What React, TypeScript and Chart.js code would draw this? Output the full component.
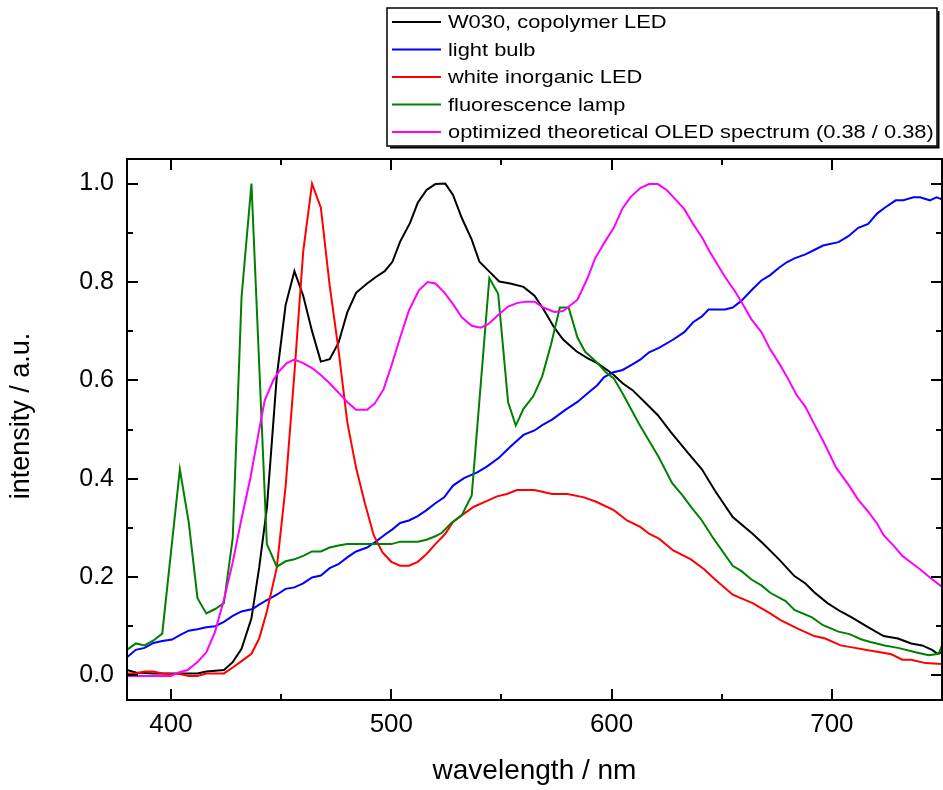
import React, { useEffect, useRef } from 'react';
import { Chart, registerables } from 'chart.js';

Chart.register(...registerables);

// ---------- data ----------
const w030Wavelength = [380, 384, 392, 400, 412, 416, 424, 428, 432, 436.5, 440, 443.5, 448, 452, 456, 460, 464, 468, 472, 476, 480, 484, 489, 493, 497, 500.5, 504, 508.5, 512, 516, 520, 524.5, 528, 532, 536.5, 540, 544.5, 549, 554, 560, 565, 569, 574, 578, 584, 589, 593.5, 598, 601, 605, 609.5, 615, 621, 627, 634, 641, 647, 655, 664, 669, 676, 683, 688, 692, 698, 704, 709, 716, 723.5, 730, 736, 741, 745.5, 748, 750];
const w030Intensity = [0.011, 0.006, 0.004, 0.004, 0.004, 0.008, 0.011, 0.027, 0.054, 0.116, 0.219, 0.34, 0.608, 0.753, 0.822, 0.772, 0.7, 0.638, 0.643, 0.676, 0.738, 0.778, 0.797, 0.81, 0.822, 0.841, 0.882, 0.92, 0.961, 0.987, 0.999, 1.0, 0.977, 0.93, 0.886, 0.841, 0.821, 0.801, 0.797, 0.79, 0.772, 0.745, 0.707, 0.683, 0.659, 0.645, 0.635, 0.621, 0.611, 0.594, 0.58, 0.556, 0.529, 0.494, 0.456, 0.419, 0.375, 0.322, 0.288, 0.267, 0.236, 0.202, 0.187, 0.169, 0.147, 0.13, 0.118, 0.099, 0.08, 0.075, 0.065, 0.061, 0.052, 0.044, 0.047];

const bulbWavelength = [380, 384, 388, 392, 396, 400.5, 404, 408, 412, 416, 420, 424, 428, 432, 437, 440, 443.5, 448, 452, 456, 460, 464, 468, 472, 476, 480, 484, 489, 493, 497, 500.5, 504, 508, 512, 516, 520, 524, 528, 533, 539, 543.5, 549, 554, 560, 565, 568.5, 573, 579, 584.5, 589, 593.5, 596.5, 600.5, 605, 608.5, 613, 617, 621.5, 628, 633, 637, 641, 644, 651.5, 655, 659, 663.5, 668, 672, 676, 679.5, 683, 688, 692, 696, 703, 707.5, 712, 716.5, 720.5, 724, 729, 732.5, 737, 740, 744.5, 747.5, 750];
const bulbIntensity = [0.037, 0.052, 0.056, 0.066, 0.07, 0.073, 0.082, 0.091, 0.094, 0.098, 0.1, 0.109, 0.121, 0.13, 0.135, 0.144, 0.153, 0.164, 0.176, 0.179, 0.187, 0.199, 0.203, 0.218, 0.226, 0.24, 0.252, 0.26, 0.272, 0.286, 0.297, 0.31, 0.315, 0.324, 0.336, 0.35, 0.362, 0.386, 0.401, 0.413, 0.425, 0.443, 0.465, 0.489, 0.498, 0.509, 0.52, 0.54, 0.556, 0.573, 0.59, 0.606, 0.616, 0.621, 0.63, 0.642, 0.657, 0.666, 0.683, 0.698, 0.718, 0.73, 0.744, 0.744, 0.748, 0.762, 0.783, 0.803, 0.814, 0.829, 0.84, 0.848, 0.856, 0.865, 0.874, 0.881, 0.893, 0.91, 0.918, 0.939, 0.951, 0.966, 0.966, 0.972, 0.972, 0.966, 0.972, 0.968];

const inorganicWavelength = [380, 384, 388, 392, 396, 400, 404, 408, 412, 416, 424, 428, 432, 436.5, 440, 443.5, 448, 452, 456, 460, 464, 468, 472, 476, 480, 484, 488, 492, 496, 500, 504, 508, 512, 516, 520, 524.5, 528, 533, 537.5, 543.5, 548, 552.5, 557, 565, 569, 573, 580, 587.5, 593, 601, 607, 613, 617, 621.5, 628, 636, 642, 647, 655, 664, 672, 676.5, 684, 692, 697, 704, 710.5, 716.5, 722, 727, 732, 736, 742.5, 750];
const inorganicIntensity = [0.004, 0.004, 0.008, 0.008, 0.004, 0.003, 0.003, -0.001, -0.001, 0.004, 0.004, 0.016, 0.029, 0.044, 0.075, 0.13, 0.219, 0.384, 0.614, 0.862, 1.0, 0.951, 0.793, 0.663, 0.515, 0.422, 0.35, 0.285, 0.25, 0.231, 0.223, 0.223, 0.231, 0.247, 0.267, 0.288, 0.312, 0.329, 0.343, 0.355, 0.364, 0.369, 0.377, 0.377, 0.373, 0.369, 0.369, 0.362, 0.353, 0.336, 0.315, 0.302, 0.288, 0.278, 0.254, 0.236, 0.216, 0.195, 0.164, 0.147, 0.126, 0.113, 0.096, 0.08, 0.075, 0.061, 0.056, 0.051, 0.047, 0.043, 0.032, 0.032, 0.025, 0.023];

const fluorescentWavelength = [380, 384, 388, 392, 396, 404, 408, 412, 416, 420, 424, 428, 432, 436.5, 443.5, 448, 452, 456, 460, 464, 468, 472, 476, 480, 500, 504, 512, 516, 520, 523, 527, 532, 536.5, 544.5, 548.5, 553, 556.5, 560, 564.5, 568.5, 572.5, 576.5, 580.5, 584.5, 588, 593, 597.5, 601, 605, 612.5, 617, 621.5, 627.5, 632, 636.5, 641, 646, 655, 659, 663.5, 668, 672, 679, 683, 691, 696, 703, 708, 713.5, 717.5, 724, 730, 738, 744, 748.5, 750];
const fluorescentIntensity = [0.052, 0.065, 0.061, 0.071, 0.085, 0.419, 0.312, 0.157, 0.126, 0.135, 0.147, 0.279, 0.769, 1.0, 0.267, 0.221, 0.232, 0.236, 0.243, 0.252, 0.252, 0.26, 0.264, 0.267, 0.267, 0.272, 0.272, 0.276, 0.283, 0.29, 0.309, 0.326, 0.366, 0.808, 0.776, 0.556, 0.508, 0.542, 0.568, 0.608, 0.673, 0.748, 0.748, 0.687, 0.658, 0.638, 0.616, 0.604, 0.573, 0.511, 0.477, 0.443, 0.391, 0.367, 0.34, 0.315, 0.28, 0.223, 0.212, 0.195, 0.183, 0.168, 0.151, 0.133, 0.118, 0.102, 0.089, 0.084, 0.073, 0.068, 0.061, 0.056, 0.047, 0.041, 0.044, 0.061];

const oledWavelength = [380, 392, 400, 403.5, 407.5, 412, 416, 420, 424, 428, 432, 436, 439.5, 442.5, 446.5, 449, 452.5, 456, 460, 464, 468, 472, 476, 480, 484, 489, 492.5, 496.5, 500, 504, 508, 512.5, 516.5, 520, 524, 528, 532, 536.5, 540.5, 544, 549, 553, 557, 561, 565, 569, 574, 578, 584.5, 589, 592.5, 597, 601, 605, 608.5, 613, 617, 621, 625, 629, 633, 637, 641, 644.5, 648, 651.5, 656, 659.5, 663.5, 668, 672, 676, 679.5, 684, 688, 692, 696, 702, 707.5, 712, 716.5, 720.5, 723.5, 728, 732, 735.5, 740, 744.5, 750];
const oledIntensity = [-0.001, -0.001, -0.001, 0.006, 0.011, 0.027, 0.047, 0.089, 0.154, 0.23, 0.319, 0.401, 0.487, 0.559, 0.601, 0.618, 0.635, 0.642, 0.635, 0.625, 0.611, 0.594, 0.575, 0.556, 0.54, 0.54, 0.553, 0.582, 0.629, 0.687, 0.742, 0.783, 0.8, 0.797, 0.779, 0.755, 0.728, 0.711, 0.707, 0.714, 0.735, 0.75, 0.757, 0.76, 0.76, 0.748, 0.739, 0.741, 0.764, 0.807, 0.848, 0.882, 0.91, 0.95, 0.972, 0.991, 0.999, 0.999, 0.987, 0.968, 0.948, 0.918, 0.891, 0.862, 0.836, 0.81, 0.781, 0.755, 0.724, 0.698, 0.663, 0.635, 0.608, 0.57, 0.546, 0.511, 0.477, 0.422, 0.388, 0.357, 0.333, 0.309, 0.285, 0.264, 0.243, 0.231, 0.216, 0.199, 0.18];

const seriesLabels = [
  'W030, copolymer LED',
  'light bulb',
  'white inorganic LED',
  'fluorescence lamp',
  'optimized theoretical OLED spectrum (0.38 / 0.38)',
];
const seriesColors = ['#000000', '#0000ff', '#ff0000', '#008000', '#ff00ff'];

const xMajorTicks = [400, 500, 600, 700];
const xMinorTicks = [450, 550, 650, 750];
const yMajorTicks = [0, 0.2, 0.4, 0.6, 0.8, 1.0];
const yMinorTicks = [0.1, 0.3, 0.5, 0.7, 0.9];

const FONT = '"Liberation Sans", Arial, Helvetica, sans-serif';

export default function App() {
  const canvasRef = useRef<HTMLCanvasElement | null>(null);

  useEffect(() => {
    const canvas = canvasRef.current;
    if (!canvas) return;

    const xs = [w030Wavelength, bulbWavelength, inorganicWavelength, fluorescentWavelength, oledWavelength];
    const ys = [w030Intensity, bulbIntensity, inorganicIntensity, fluorescentIntensity, oledIntensity];

    const datasets = seriesLabels.map((label, i) => ({
      label,
      data: xs[i].map((x, k) => ({ x, y: ys[i][k] })),
      borderColor: seriesColors[i],
      backgroundColor: seriesColors[i],
      borderWidth: 2,
      pointRadius: 0,
      tension: 0,
      fill: false,
      order: seriesLabels.length - i,
    }));

    const frameTicks = {
      id: 'frameTicks',
      afterDatasetsDraw(chart: any) {
        const { ctx, chartArea: a, scales } = chart;
        const sx = scales.x;
        const sy = scales.y;
        ctx.save();
        ctx.strokeStyle = '#000';
        ctx.lineWidth = 2;
        ctx.strokeRect(a.left, a.top, a.right - a.left, a.bottom - a.top);
        const seg = (x1: number, y1: number, x2: number, y2: number) => {
          ctx.beginPath();
          ctx.moveTo(x1, y1);
          ctx.lineTo(x2, y2);
          ctx.stroke();
        };
        const xTick = (v: number, len: number) => {
          const px = Math.round(sx.getPixelForValue(v));
          seg(px, a.bottom, px, a.bottom - len);
          seg(px, a.top, px, a.top + len);
        };
        const yTick = (v: number, len: number) => {
          const py = Math.round(sy.getPixelForValue(v));
          seg(a.left, py, a.left + len, py);
          seg(a.right, py, a.right - len, py);
        };
        xMajorTicks.forEach((v) => xTick(v, 11));
        xMinorTicks.forEach((v) => xTick(v, 6));
        yMajorTicks.forEach((v) => yTick(v, 11));
        yMinorTicks.forEach((v) => yTick(v, 6));
        ctx.restore();
      },
    };

    const boxLegend = {
      id: 'boxLegend',
      afterDraw(chart: any) {
        const ctx = chart.ctx;
        const left = 387;
        const top = 8;
        const right = 937;
        const bottom = 146;
        ctx.save();
        ctx.fillStyle = '#ffffff';
        ctx.fillRect(left, top, right - left, bottom - top);
        ctx.strokeStyle = '#000';
        ctx.lineWidth = 1.5;
        ctx.strokeRect(left, top, right - left, bottom - top);
        ctx.lineWidth = 2;
        ctx.beginPath();
        ctx.moveTo(right + 1.5, top + 3);
        ctx.lineTo(right + 1.5, bottom + 1.5);
        ctx.lineTo(left + 3, bottom + 1.5);
        ctx.stroke();
        ctx.font = `19px ${FONT}`;
        ctx.textBaseline = 'middle';
        ctx.textAlign = 'left';
        seriesLabels.forEach((label, i) => {
          const cy = 22 + i * 27.5;
          ctx.strokeStyle = seriesColors[i];
          ctx.lineWidth = 2;
          ctx.beginPath();
          ctx.moveTo(392, cy);
          ctx.lineTo(441, cy);
          ctx.stroke();
          ctx.fillStyle = '#000';
          ctx.save();
          ctx.translate(448, cy + 1);
          ctx.scale(1.15, 1);
          ctx.fillText(label, 0, 0);
          ctx.restore();
        });
        ctx.restore();
      },
    };

    const chart = new Chart(canvas, {
      type: 'line',
      data: { datasets },
      options: {
        responsive: false,
        animation: false,
        devicePixelRatio: 1,
        layout: { padding: { top: 159, right: 1, bottom: 0, left: 0 } },
        plugins: {
          legend: { display: false },
          tooltip: { enabled: false },
        },
        scales: {
          x: {
            type: 'linear',
            min: 380,
            max: 750,
            grid: { display: false, drawTicks: false, tickLength: 0 },
            border: { display: false },
            afterBuildTicks: (s: any) => {
              s.ticks = xMajorTicks.map((v) => ({ value: v }));
            },
            afterFit: (s: any) => {
              s.height = 90;
            },
            ticks: {
              font: { family: FONT, size: 26 },
              color: '#000',
              padding: 9,
              autoSkip: false,
              maxRotation: 0,
              callback: (v: any) => String(v),
            },
            title: {
              display: true,
              text: 'wavelength / nm',
              font: { family: FONT, size: 28 },
              color: '#000',
              padding: { top: 0, bottom: 2 },
            },
          },
          y: {
            type: 'linear',
            min: -0.05,
            max: 1.05,
            grid: { display: false, drawTicks: false, tickLength: 0 },
            border: { display: false },
            afterBuildTicks: (s: any) => {
              s.ticks = yMajorTicks.map((v) => ({ value: v }));
            },
            afterFit: (s: any) => {
              s.width = 127;
            },
            ticks: {
              font: { family: FONT, size: 25 },
              color: '#000',
              padding: 13,
              callback: (v: any) => Number(v).toFixed(1),
            },
            title: {
              display: true,
              text: '\u2002\u2002intensity / a.u.',
              font: { family: FONT, size: 27 },
              color: '#000',
              padding: { top: 5, bottom: 0 },
            },
          },
        },
      },
      plugins: [frameTicks, boxLegend],
    } as any);

    return () => {
      chart.destroy();
    };
  }, []);

  return (
    <div style={{ position: 'absolute', left: 0, top: 0, width: 943, height: 790, background: '#fff' }}>
      <canvas ref={canvasRef} width={943} height={790} style={{ display: 'block', width: 943, height: 790 }} />
    </div>
  );
}
